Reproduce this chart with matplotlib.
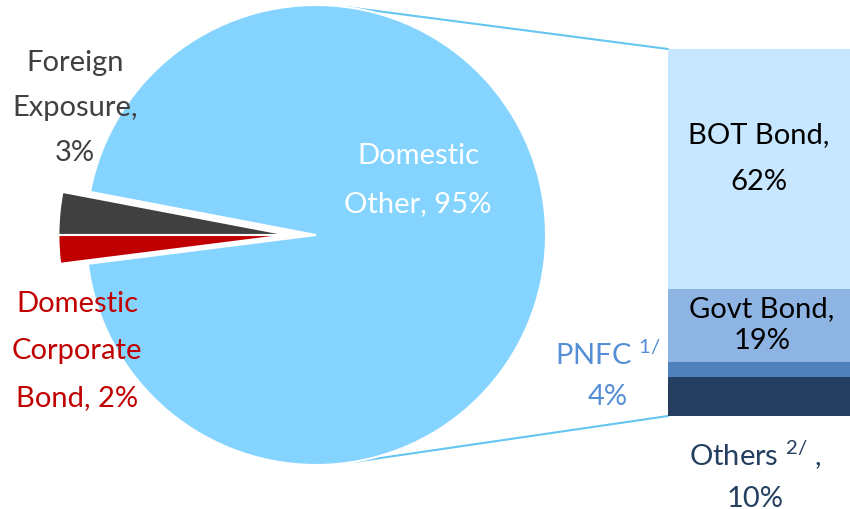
import numpy as np
import matplotlib
matplotlib.use('Agg')
import matplotlib.pyplot as plt
import matplotlib.patheffects as pe
from matplotlib.patches import ConnectionPatch

plt.rcParams['font.family'] = ['Lato', 'DejaVu Sans']

# pie: share of holdings
pie_labels = ['Foreign\nExposure,\n3%', 'Domestic\nCorporate\nBond, 2%', 'Domestic\nOther, 95%']
pie_values = [3, 2, 95]
pie_colors = ['#404040', '#C00000', '#85D4FF']

# bar: breakdown of "Domestic Other"
bar_labels = ['Others $\\mathregular{^{2/}}$ ,\n10%', 'PNFC $\\mathregular{^{1/}}$\n4%',
              'Govt Bond,\n19%', 'BOT Bond,\n62%']
bar_values = [10, 4, 19, 62]
bar_colors = ['#243F60', '#4F81BD', '#8EB4E3', '#C6E7FF']

W, H = 850, 510
fig = plt.figure(figsize=(W / 100, H / 100), dpi=100)


def px(x, y):
    return x / W, 1 - y / H


# pie axes, centre (316, 236), radius 230 px
R = 230
pie_ax = fig.add_axes([(316 - 250) / W, (H - 236 - 250) / H, 500 / W, 500 / H])
start = 180 - pie_values[0] * 3.6
wedges, _ = pie_ax.pie(pie_values, colors=pie_colors, startangle=start,
                       counterclock=True, radius=1,
                       wedgeprops=dict(edgecolor='white', linewidth=1.5))
# pull the two small slices out to the left
for w in wedges[:2]:
    w.set_center((-0.12, 0))
lim = 250 / R
pie_ax.set_xlim(-lim, lim)
pie_ax.set_ylim(-lim, lim)
pie_ax.axis('off')

# stacked bar
bar_ax = fig.add_axes([668 / W, (H - 417) / H, 190 / W, 367 / H])
bottom = 0
bars = []
for v, c in zip(bar_values, bar_colors):
    b = bar_ax.bar(0, v, width=1, bottom=bottom, color=c, linewidth=0)[0]
    bars.append(b)
    bottom += v
bars[0].set_path_effects([pe.SimplePatchShadow(offset=(2, -5), alpha=0.45, shadow_rgbFace='#555555'),
                          pe.Normal()])
bar_ax.set_xlim(-0.5, 0.5)
bar_ax.set_ylim(0, sum(bar_values))
bar_ax.axis('off')

# connector lines from pie to bar
line_color = '#66C6F2'
for ang, yb in [(82, sum(bar_values)), (-81, 0)]:
    t = np.radians(ang)
    con = ConnectionPatch(xyA=(np.cos(t), np.sin(t)), coordsA=pie_ax.transData,
                          xyB=(-0.5, yb), coordsB=bar_ax.transData,
                          color=line_color, linewidth=1.5, zorder=0)
    fig.add_artist(con)

fs = 21
fig.text(*px(75, 108), pie_labels[0], color='#404040', fontsize=fs,
         ha='center', va='center', linespacing=1.92)
fig.text(*px(77, 351), pie_labels[1], color='#C00000', fontsize=fs,
         ha='center', va='center', linespacing=2.0)
fig.text(*px(418, 180), pie_labels[2], color='white', fontsize=fs,
         ha='center', va='center', linespacing=2.07)

fig.text(*px(759, 159), bar_labels[3], color='black', fontsize=fs,
         ha='center', va='center', linespacing=2.0)
fig.text(*px(762, 325), bar_labels[2], color='black', fontsize=fs,
         ha='center', va='center', linespacing=1.29)
fig.text(*px(608, 375), bar_labels[1], color='#558ED5', fontsize=fs,
         ha='center', va='center', linespacing=1.67)
fig.text(*px(755, 475), bar_labels[0], color='#243F60', fontsize=fs,
         ha='center', va='center', linespacing=1.67)

fig.savefig('out.png', dpi=100)
